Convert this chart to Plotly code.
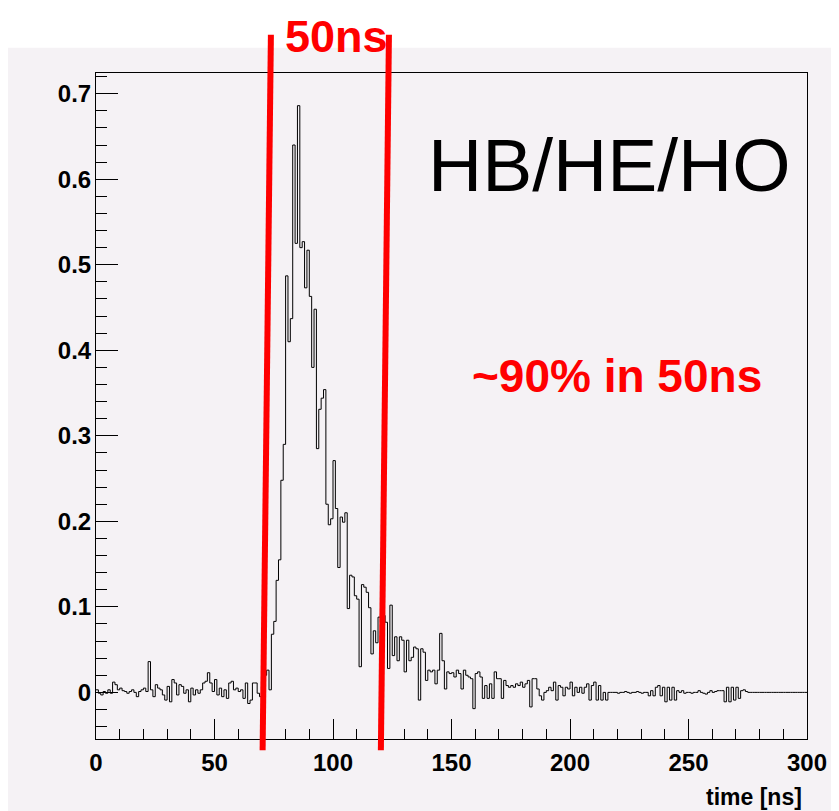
import plotly.graph_objects as go

# ---------------- data ----------------
bin_width_ns = 1.0
signal = [
    # 0-9
    0.003, -0.001, -0.003, 0.001, -0.001, 0.003, -0.001, 0.012, 0.009, 0.003,
    # 10-19
    0.005, 0.002, 0.001, -0.001, 0.001, 0.003, 0.000, -0.005, 0.001, 0.003,
    # 20-29
    0.005, 0.001, 0.036, 0.003, -0.005, 0.009, 0.005, 0.003, -0.003, -0.009,
    # 30-39
    0.007, -0.011, 0.015, 0.011, -0.003, 0.009, 0.007, -0.001, 0.003, -0.011,
    # 40-49
    0.005, -0.003, 0.003, -0.001, 0.003, 0.011, 0.013, 0.023, 0.011, 0.001,
    # 50-59
    0.015, -0.003, 0.005, -0.005, 0.003, -0.007, 0.011, 0.013, 0.003, 0.005,
    # 60-69
    0.001, 0.003, -0.007, 0.011, -0.013, -0.009, 0.011, 0.011, -0.001, -0.005,
    # 70-79
    0.012, 0.020, 0.026, 0.003, 0.068, 0.083, 0.131, 0.155, 0.248, 0.290,
    # 80-89
    0.487, 0.410, 0.437, 0.640, 0.525, 0.686, 0.520, 0.527, 0.473, 0.517,
    # 90-99
    0.463, 0.380, 0.448, 0.285, 0.331, 0.344, 0.354, 0.220, 0.196, 0.203,
    # 100-109
    0.271, 0.215, 0.146, 0.205, 0.199, 0.210, 0.098, 0.137, 0.135, 0.113,
    # 110-119
    0.109, 0.030, 0.126, 0.123, 0.117, 0.099, 0.045, 0.072, 0.058, 0.088,
    # 120-129
    0.082, 0.090, 0.082, 0.028, 0.102, 0.043, 0.065, 0.037, 0.065, 0.061,
    # 130-139
    0.024, 0.061, 0.037, 0.041, 0.053, 0.051, -0.009, 0.051, 0.047, 0.014,
    # 140-149
    0.026, 0.024, 0.026, 0.010, 0.026, 0.069, 0.037, 0.004, 0.024, 0.022,
    # 150-159
    0.023, 0.018, 0.026, 0.022, 0.004, 0.026, 0.020, 0.018, 0.016, -0.019,
    # 160-169
    0.022, 0.024, 0.018, -0.007, 0.008, -0.007, 0.010, -0.007, 0.024, 0.016,
    # 170-179
    0.016, -0.007, 0.014, 0.008, 0.006, 0.008, 0.006, 0.010, 0.008, 0.012,
    # 180-189
    0.006, 0.010, 0.014, -0.017, 0.016, 0.016, 0.004, -0.004, -0.009, 0.000,
    # 190-199
    0.002, 0.006, 0.002, 0.012, -0.009, 0.008, 0.006, -0.004, 0.006, 0.004,
    # 200-209
    0.012, -0.004, 0.006, 0.000, 0.006, -0.001, 0.006, 0.010, -0.009, 0.008,
    # 210-219
    0.012, -0.009, 0.008, -0.009, 0.000, -0.009, 0.000, 0.000, 0.000, 0.000,
    # 220-229
    -0.001, 0.000, 0.000, 0.001, 0.000, -0.001, 0.000, 0.000, 0.001, 0.000,
    # 230-239
    -0.001, 0.000, 0.000, -0.004, 0.002, -0.004, 0.006, 0.008, -0.004, 0.006,
    # 240-249
    -0.011, 0.006, -0.009, 0.006, -0.009, 0.002, 0.000, 0.002, -0.001, 0.000,
    # 250-259
    0.000, -0.001, 0.000, 0.000, 0.002, 0.000, -0.001, -0.002, 0.000, 0.002,
    # 260-269
    0.000, 0.001, 0.002, 0.002, 0.002, -0.011, 0.006, -0.011, 0.006, -0.009,
    # 270-279
    0.006, -0.007, 0.002, 0.003, 0.001, 0.000, 0.000, 0.000, 0.000, 0.000,
    # 280-289
    0.000, 0.000, 0.000, 0.000, 0.000, 0.000, 0.000, 0.000, 0.000, 0.000,
    # 290-299
    0.000, 0.000, 0.000, 0.000, 0.000, 0.000, 0.000, 0.000, 0.000, 0.000,
]
bin_edges = [i * bin_width_ns for i in range(len(signal) + 1)]

x_range = [0, 300]
y_range = [-0.0545, 0.7242]
x_tick_vals = [0, 50, 100, 150, 200, 250, 300]
x_tick_text = ["0", "50", "100", "150", "200", "250", "300"]
y_tick_vals = [0, 0.1, 0.2, 0.3, 0.4, 0.5, 0.6, 0.7]
y_tick_text = ["0", "0.1", "0.2", "0.3", "0.4", "0.5", "0.6", "0.7"]
x_title = "time [ns]"

# 50 ns integration window markers (data coords: top point, bottom point)
window_lines = [
    ((73.8, 0.769), (70.3, -0.0676)),
    ((123.6, 0.769), (120.2, -0.0676)),
]
window_label = "50ns"
detector_label = "HB/HE/HO"
fraction_label = "~90% in 50ns"

# ---------------- style ----------------
TINT = "#f5f2f5"
RED = "#ff0000"
SANS = "Liberation Sans, Arial, Helvetica, sans-serif"


def to_paper_x(x):
    return (x - x_range[0]) / (x_range[1] - x_range[0])


def to_paper_y(y):
    return (y - y_range[0]) / (y_range[1] - y_range[0])


fig = go.Figure()
fig.add_trace(go.Scatter(
    x=bin_edges,
    y=signal + [signal[-1]],
    mode="lines",
    line=dict(shape="hv", color="black", width=1),
    hoverinfo="skip",
    showlegend=False,
))

shapes = [
    # tinted canvas (ROOT pad) leaving a white strip at the top
    dict(type="rect", xref="paper", yref="paper",
         x0=-0.14, x1=1.06, y0=-0.14, y1=1.038,
         fillcolor=TINT, line=dict(width=0), layer="below"),
]
for (xt, yt), (xb, yb) in window_lines:
    shapes.append(dict(
        type="line", xref="paper", yref="paper",
        x0=to_paper_x(xt), y0=to_paper_y(yt),
        x1=to_paper_x(xb), y1=to_paper_y(yb),
        line=dict(color=RED, width=6), layer="above",
    ))

annotations = [
    dict(text=window_label, xref="paper", yref="paper",
         x=to_paper_x(101.4), y=1.0968, xanchor="center", yanchor="top",
         showarrow=False,
         font=dict(family=SANS, size=45, color=RED, weight="bold")),
    dict(text=detector_label, xref="paper", yref="paper",
         x=0.7222, y=0.8623, xanchor="center", yanchor="middle",
         showarrow=False,
         font=dict(family=SANS, size=75, color="black")),
    dict(text=fraction_label, xref="paper", yref="paper",
         x=0.733, y=0.5455, xanchor="center", yanchor="middle",
         showarrow=False,
         font=dict(family=SANS, size=46, color=RED, weight="bold")),
    dict(text=x_title, xref="paper", yref="paper",
         x=0.9958, y=-0.0866, xanchor="right", yanchor="middle",
         showarrow=False,
         font=dict(family=SANS, size=23, color="black", weight="bold")),
]

tick_font = dict(family=SANS, size=24, color="black", weight="bold")

# page body adds an 8px offset, so the figure is 8px smaller than the window
fig.update_layout(
    width=831, height=803, autosize=False,
    margin=dict(l=88, r=23, t=65, b=72, pad=0),
    paper_bgcolor="white",
    plot_bgcolor=TINT,
    shapes=shapes,
    annotations=annotations,
    xaxis=dict(
        range=x_range, showgrid=False, zeroline=False,
        showline=True, linecolor="black", linewidth=1, mirror=True,
        ticks="inside", ticklen=20, tickwidth=1, tickcolor="black",
        tickmode="array", tickvals=x_tick_vals, ticktext=x_tick_text,
        tickfont=tick_font, ticklabelstandoff=2,
        minor=dict(ticks="inside", ticklen=10, tickwidth=1, tickcolor="black",
                   dtick=10, tick0=0, showgrid=False),
    ),
    yaxis=dict(
        range=y_range, showgrid=False, zeroline=False,
        showline=True, linecolor="black", linewidth=1, mirror=True,
        ticks="inside", ticklen=22, tickwidth=1, tickcolor="black",
        tickmode="array", tickvals=y_tick_vals, ticktext=y_tick_text,
        tickfont=tick_font, ticklabelstandoff=-1,
        minor=dict(ticks="inside", ticklen=11, tickwidth=1, tickcolor="black",
                   dtick=0.02, tick0=0, showgrid=False),
    ),
)

fig.write_html("out.html")
